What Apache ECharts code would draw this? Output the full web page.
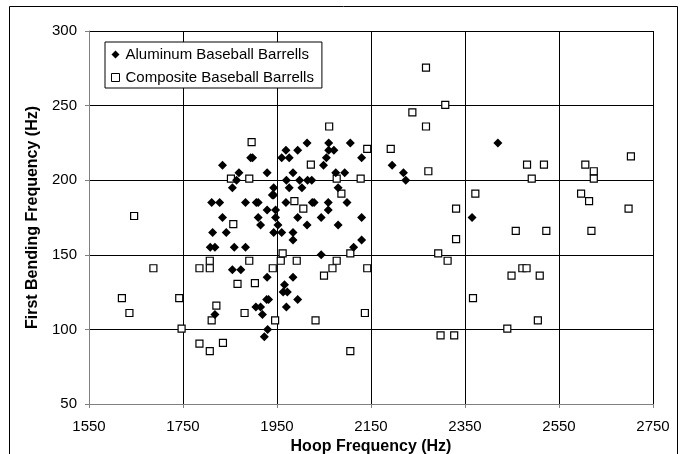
<!DOCTYPE html>
<html>
<head>
<meta charset="utf-8">
<script src="https://cdn.jsdelivr.net/npm/echarts@6/dist/echarts.min.js"></script>
<style>
html,body{margin:0;padding:0;background:#fff;}
#c{width:682px;height:454px;}
</style>
</head>
<body>
<div id="c"></div>
<script>
var xTicks = [1550, 1750, 1950, 2150, 2350, 2550, 2750];
var yTicks = [50, 100, 150, 200, 250, 300];

var alHoop = [1834,1869,1864,1855,1811,1828,1883,1906,1910,1834,1813,1842,1808,1818,1859,1883,1855,1873,1818,1894,1898,1929,1940,1943,1943,1929,1910,1915,1947,1947,1952,1943,1960,1929,1928,1932,1905,1915,1919,1930,1923,1960,1969,1976,1970,1976,1969,1984,1994,2014,1998,2003,1994,1984,1984,2014,2015,2024,2025,2029,1966,1963,1972,1984,1994,1970,2049,2055,2060,2060,2071,2106,2130,2075,2094,2080,2059,2099,2059,2044,2080,2130,2130,2113,2044,2195,2219,2224,2420,2365];
var alBend = [210,205,200,195,185,185,185,185,185,175,165,165,155,155,155,155,140,140,110,215,215,205,190,190,195,180,175,170,180,175,170,165,165,135,120,120,115,115,110,100,95,215,220,215,200,195,185,205,220,225,200,195,175,165,160,170,200,200,185,185,130,125,125,135,120,115,210,215,225,220,220,225,215,205,205,195,185,185,180,175,170,175,160,155,150,210,205,200,225,175];

var coHoop = [1620,1636,1646,1687,1742,1747,1785,1807,1811,1821,1807,1807,1785,1835,1852,1857,1866,1881,1891,1896,1891,1903,1941,1946,1958,1962,1987,1992,2006,2022,2032,2050,2061,2068,2077,2077,2087,2106,2106,2128,2142,2142,2137,2192,2238,2267,2267,2272,2308,2293,2313,2298,2327,2331,2331,2372,2367,2440,2449,2458,2472,2481,2482,2492,2505,2509,2518,2523,2597,2606,2614,2619,2624,2624,2698,2703];
var coBend = [121,111,176,141,121,100.5,90.5,85.5,106,116,146,141,141,91,201,170.5,130.5,111,201,225.5,146,131,141,106,146,151,186,146,181,210.5,106,136,236,141,201,146,191,151,85.5,201,221,141,111,221,245.5,275.5,236,206,250.5,151,146,96,96,181,160.5,191,121,100.5,136,166,141,141,210.5,201,106,136,210.5,166,191,210.5,186,166,206,201,181,216];

function pairs(xs, ys){ var out=[]; for(var i=0;i<xs.length;i++){ out.push([xs[i], ys[i]]); } return out; }

var chart = echarts.init(document.getElementById('c'), null, {renderer:'canvas'});
var font = 'Liberation Sans, Arial, sans-serif';
chart.setOption({
  animation:false,
  backgroundColor:'#fff',
  grid:{left:89, right:29, top:31, bottom:50, containLabel:false, outerBoundsMode:'none', show:false},
  graphic:[{type:'rect', shape:{x:9.5,y:6.5,width:668,height:460}, style:{fill:'none', stroke:'#000', lineWidth:1}, silent:true, z:-1}],
  legend:{
    left:105, top:42, orient:'vertical',
    padding:[5,8,3,6], itemGap:8,
    itemWidth:8, itemHeight:8,
    backgroundColor:'#fff', borderColor:'#000', borderWidth:1, borderRadius:0,
    textStyle:{fontFamily:font, fontSize:15, color:'#000', padding:[0,0,0,1]},
    data:[{name:'Aluminum Baseball Barrells', icon:'diamond'}, {name:'Composite Baseball Barrells', icon:'rect', itemStyle:{color:'#fff', borderColor:'#000', borderWidth:1}}]
  },
  xAxis:{
    type:'value', min:xTicks[0], max:xTicks[xTicks.length-1], interval:200,
    name:'Hoop Frequency (Hz)', nameLocation:'middle', nameGap:31,
    nameTextStyle:{fontFamily:font, fontSize:16, fontWeight:'bold', color:'#000'},
    axisLine:{show:true, lineStyle:{color:'#808080', width:1}},
    axisTick:{show:true, inside:false, length:4, lineStyle:{color:'#808080'}},
    axisLabel:{fontFamily:font, fontSize:15, color:'#000', margin:15, formatter:function(v){return String(v);}},
    splitLine:{show:true, lineStyle:{color:'#000', width:1}}
  },
  yAxis:{
    type:'value', min:yTicks[0], max:yTicks[yTicks.length-1], interval:50,
    name:'First Bending Frequency (Hz)', nameLocation:'middle', nameGap:46, nameRotate:90,
    nameTextStyle:{fontFamily:font, fontSize:16, fontWeight:'bold', color:'#000'},
    axisLine:{show:true, lineStyle:{color:'#808080', width:1}},
    axisTick:{show:true, inside:false, length:4, lineStyle:{color:'#808080'}},
    axisLabel:{fontFamily:font, fontSize:15, color:'#000', margin:12, formatter:function(v){return String(v);}},
    splitLine:{show:true, lineStyle:{color:'#000', width:1}}
  },
  series:[
    {name:'Aluminum Baseball Barrells', type:'scatter', symbol:'diamond', symbolSize:9,
     itemStyle:{color:'#000', opacity:1}, data:pairs(alHoop, alBend), z:3},
    {name:'Composite Baseball Barrells', type:'scatter', symbol:'rect', symbolSize:7,
     itemStyle:{color:'#fff', borderColor:'#000', borderWidth:1.2, opacity:1}, data:pairs(coHoop, coBend), z:2}
  ]
});
</script>
</body>
</html>
